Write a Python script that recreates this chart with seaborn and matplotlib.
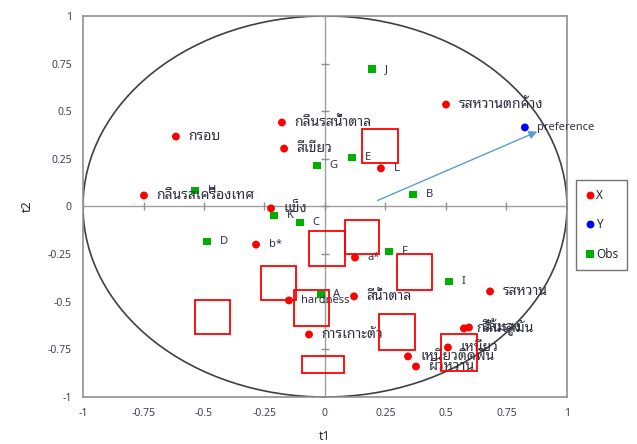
import seaborn as sns
import matplotlib.pyplot as plt
import pandas as pd
from matplotlib.patches import Circle, Rectangle

# variables (X)
x_labels = ['กรอบ', 'กลิ่นรสน้ำตาล', 'สีเขียว', 'รสหวานตกค้าง', 'L', 'กลิ่นรสเครื่องเทศ',
            'แข็ง', 'b*', 'a*', 'hardness', 'สีน้ำตาล', 'การเกาะตัว', 'รสหวาน',
            'กลิ่นรสมัน', 'สีส้มสูง', 'เหนียว', 'เหนียวติดฟัน', 'ผิวหวาน']
x_t1 = [-0.616, -0.178, -0.169, 0.50, 0.231, -0.748, -0.223, -0.285, 0.124, -0.149,
        0.12, -0.066, 0.682, 0.574, 0.595, 0.508, 0.343, 0.376]
x_t2 = [0.367, 0.441, 0.304, 0.535, 0.20, 0.058, -0.01, -0.20, -0.268, -0.493,
        -0.472, -0.672, -0.446, -0.64, -0.635, -0.74, -0.787, -0.84]

# response (Y)
y_labels = ['preference']
y_t1 = [0.826]
y_t2 = [0.415]

# observations
obs_labels = ['J', 'E', 'G', 'B', 'H', 'K', 'C', 'D', 'F', 'A', 'I']
obs_t1 = [0.194, 0.112, -0.033, 0.364, -0.537, -0.211, -0.103, -0.488, 0.264, -0.017, 0.512]
obs_t2 = [0.72, 0.257, 0.215, 0.063, 0.084, -0.047, -0.084, -0.184, -0.236, -0.462, -0.394]

# arrow towards preference
arrow_start = (0.207, 0.026)
arrow_end = (0.888, 0.399)

# highlight boxes (x0, y0, x1, y1) in chart units
boxes = [(0.153, 0.226, 0.302, 0.405), (-0.066, -0.31, 0.083, -0.131),
         (0.083, -0.252, 0.223, -0.073), (0.298, -0.436, 0.442, -0.252),
         (-0.264, -0.493, -0.12, -0.31), (-0.128, -0.625, 0.017, -0.436),
         (-0.536, -0.672, -0.392, -0.493), (0.223, -0.751, 0.372, -0.567),
         (0.479, -0.861, 0.628, -0.672), (-0.095, -0.872, 0.078, -0.787)]

ticks = [-1, -0.75, -0.5, -0.25, 0, 0.25, 0.5, 0.75, 1]
tick_text = ['-1', '-0.75', '-0.5', '-0.25', '0', '0.25', '0.5', '0.75', '1']

sns.set_style('white')
plt.rcParams['font.family'] = ['Noto Sans', 'Noto Sans Thai Looped', 'DejaVu Sans']

df = pd.DataFrame({
    't1': x_t1 + y_t1 + obs_t1,
    't2': x_t2 + y_t2 + obs_t2,
    'label': x_labels + y_labels + obs_labels,
    'group': ['X'] * len(x_t1) + ['Y'] * len(y_t1) + ['Obs'] * len(obs_t1),
})

fig = plt.figure(figsize=(6.37, 4.44), dpi=100)
ax = fig.add_axes([0.1303, 0.1059, 0.7598, 0.8581])

# correlation circle and zero lines
ax.add_patch(Circle((0, 0), 1, fill=False, color='#404040', lw=1.2, zorder=1))
ax.axhline(0, color='#a0a0a0', lw=1, zorder=1)
ax.axvline(0, color='#a0a0a0', lw=1, zorder=1)
ax.plot(ticks, [0] * len(ticks), ls='none', marker='|', ms=6, color='#909090', zorder=1)
ax.plot([0] * len(ticks), ticks, ls='none', marker='_', ms=6, color='#909090', zorder=1)

ax.annotate('', xy=arrow_end, xytext=arrow_start,
            arrowprops=dict(arrowstyle='-|>', color='#5b9bd5', lw=1, mutation_scale=12))

sns.scatterplot(data=df, x='t1', y='t2', hue='group', style='group',
                palette={'X': '#ff0000', 'Y': '#0000ff', 'Obs': '#00b000'},
                markers={'X': 'o', 'Y': 'o', 'Obs': 's'},
                s=32, linewidth=0, ax=ax, zorder=3)

for _, r in df.iterrows():
    latin = r['label'].isascii()
    ax.annotate(r['label'], (r['t1'], r['t2']), xytext=(9, 0), textcoords='offset points',
                va='center', ha='left', fontsize=8 if latin else 10, color='#303040',
                zorder=4)

for x0, y0, x1, y1 in boxes:
    ax.add_patch(Rectangle((x0, y0), x1 - x0, y1 - y0, fill=False, ec='#ff0000',
                           lw=1.3, zorder=5))

ax.set_xlim(-1, 1)
ax.set_ylim(-1, 1)
ax.set_xticks(ticks)
ax.set_xticklabels(tick_text, fontweight='bold')
ax.set_yticks(ticks)
ax.set_yticklabels(tick_text, fontweight='bold')
ax.tick_params(labelsize=7.5, colors='#404050', length=0, pad=8)
ax.set_xlabel('t1', fontsize=9, fontweight='bold', labelpad=8)
ax.set_ylabel('t2', fontsize=9, fontweight='bold', labelpad=10)
for sp in ax.spines.values():
    sp.set_color('#909090')
    sp.set_linewidth(1.2)

leg = ax.legend(loc='upper left', bbox_to_anchor=(1.025, 0.56), frameon=True,
                fontsize=8.5, handletextpad=0.0, labelspacing=1.4, borderpad=0.45,
                handlelength=1.0, borderaxespad=0)
leg.get_frame().set_edgecolor('#505050')
leg.get_frame().set_boxstyle('square')

plt.savefig('out.png', dpi=100)
